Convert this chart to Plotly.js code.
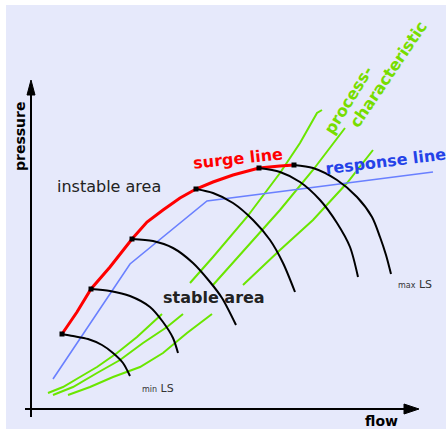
<!DOCTYPE html>
<html>
<head>
<meta charset="utf-8">
<script src="https://cdn.plot.ly/plotly-3.0.1.min.js"></script>
<style>html,body{margin:0;padding:0;background:#fff;}#chart{width:446px;height:429px;}</style>
</head>
<body>
<div id="chart"></div>
<script>
// Data in chart units (flow, pressure)
const surgeFlow  = [30, 45, 59, 78, 100, 115, 131, 148, 164, 181, 201, 227, 248, 262];
const surgePress = [75, 97, 120, 142, 170, 187, 199, 211, 220, 227, 234, 241, 243, 244];

const surgePtFlow  = [30, 59, 100, 164, 227, 262];
const surgePtPress = [75, 120, 170, 220, 241, 244];

const respFlow  = [21, 98, 175, 401];
const respPress = [30, 145, 208, 237];

const speed1Flow  = [30, 41, 56, 70, 81, 91, 98];
const speed1Press = [75, 73, 70, 64, 56, 46, 33];
const speed2Flow  = [59, 78, 98, 118, 131, 141, 146];
const speed2Press = [120, 118, 113, 102, 87, 71, 56];
const speed3Flow  = [100, 121, 141, 161, 178, 190, 204];
const speed3Press = [170, 168, 161, 146, 127, 111, 84];
const speed4Flow  = [164, 181, 201, 221, 238, 251, 263];
const speed4Press = [220, 216, 206, 189, 169, 146, 117];
const speed5Flow  = [227, 248, 268, 288, 305, 318, 326];
const speed5Press = [241, 237, 227, 209, 186, 162, 132];
const speed6Flow  = [262, 281, 305, 325, 340, 348, 354, 359];
const speed6Press = [244, 241, 229, 212, 192, 172, 154, 135];

const proc1Flow  = [16, 31, 48, 65, 85, 105, 130, null, 158, 181, 215, 248, 268, 285, 290];
const proc1Press = [16, 22, 32, 42, 56, 72, 95, null, 126, 152, 192, 236, 266, 296, 299];
const proc2Flow  = [21, 41, 65, 88, 111, 135, 151, null, 181, 215, 248, 281, 313];
const proc2Press = [14, 22, 36, 49, 66, 82, 95, null, 124, 162, 199, 239, 281];
const proc3Flow  = [36, 58, 81, 108, 131, 155, 180, null, 211, 248, 281, 315, 341];
const proc3Press = [14, 22, 32, 42, 56, 76, 95, null, 124, 159, 189, 226, 259];

const GREEN = '#6AE600';
const BLACK = '#000000';

const traces = [];
[[proc1Flow, proc1Press], [proc2Flow, proc2Press], [proc3Flow, proc3Press]].forEach(p => {
  traces.push({x: p[0], y: p[1], mode: 'lines', connectgaps: false,
    line: {color: GREEN, width: 2}, hoverinfo: 'skip'});
});
traces.push({x: respFlow, y: respPress, mode: 'lines',
  line: {color: '#6A80FF', width: 1.6}, hoverinfo: 'skip'});
traces.push({x: surgeFlow, y: surgePress, mode: 'lines',
  line: {color: '#FF0000', width: 3}, hoverinfo: 'skip'});
[[speed1Flow, speed1Press], [speed2Flow, speed2Press], [speed3Flow, speed3Press],
 [speed4Flow, speed4Press], [speed5Flow, speed5Press], [speed6Flow, speed6Press]].forEach(p => {
  traces.push({x: p[0], y: p[1], mode: 'lines',
    line: {color: BLACK, width: 2, shape: 'spline', smoothing: 0.8}, hoverinfo: 'skip'});
});
traces.push({x: surgePtFlow, y: surgePtPress, mode: 'markers',
  marker: {symbol: 'square', size: 5, color: BLACK}, hoverinfo: 'skip'});

const txtFont = (size, color, bold) => ({family: 'DejaVu Sans, Verdana, sans-serif', size: size, color: color, weight: bold ? 'bold' : 'normal'});
const ann = (x, y, text, font, angle) => ({x: x, y: y, xref: 'x', yref: 'y', text: text, showarrow: false,
  xanchor: 'center', yanchor: 'middle', font: font, textangle: angle || 0});

const layout = {
  width: 446, height: 429, autosize: false,
  margin: {l: 0, r: 0, t: 0, b: 0, pad: 0},
  paper_bgcolor: '#ffffff', plot_bgcolor: 'rgba(0,0,0,0)',
  showlegend: false,
  xaxis: {range: [-32, 414], visible: false, fixedrange: true},
  yaxis: {range: [-20, 409], visible: false, fixedrange: true},
  shapes: [
    {type: 'rect', xref: 'paper', yref: 'paper', x0: 6/446, x1: 1, y0: 0, y1: 1 - 5/429,
     fillcolor: '#E6E9FB', line: {width: 0}, layer: 'below'},
    {type: 'line', xref: 'x', yref: 'y', x0: -1, x1: -1, y0: -8, y1: 316, line: {color: BLACK, width: 2}},
    {type: 'path', xref: 'x', yref: 'y', path: 'M -5,314 L 3,314 L -1,329 Z', fillcolor: BLACK, line: {color: BLACK, width: 1}},
    {type: 'line', xref: 'x', yref: 'y', x0: -7, x1: 374, y0: 0, y1: 0, line: {color: BLACK, width: 2}},
    {type: 'path', xref: 'x', yref: 'y', path: 'M 372,5 L 372,-5 L 387,0 Z', fillcolor: BLACK, line: {color: BLACK, width: 1}}
  ],
  annotations: [
    ann(-12, 272, 'pressure', txtFont(14, BLACK, true), -90),
    ann(349, -12, 'flow', txtFont(14, BLACK, true)),
    ann(77, 223, 'instable area', txtFont(16, '#222222', false)),
    ann(182, 112, 'stable area', txtFont(16, '#222222', true)),
    ann(206, 251, 'surge line', txtFont(16, '#FF0000', true), -6),
    ann(353, 248, 'response line', txtFont(16, '#2442E8', true), -7),
    ann(316, 309, 'process-', txtFont(16, '#77DD00', true), -58),
    ann(356, 335, 'characteristic', txtFont(16, '#77DD00', true), -56),
    ann(126, 21, "<span style='font-size:8px'>min</span> LS", txtFont(11, '#333333', false)),
    ann(383, 125, "<span style='font-size:8px'>max</span> LS", txtFont(11, '#333333', false))
  ]
};

Plotly.newPlot('chart', traces, layout, {staticPlot: true, displayModeBar: false});
</script>
</body>
</html>
